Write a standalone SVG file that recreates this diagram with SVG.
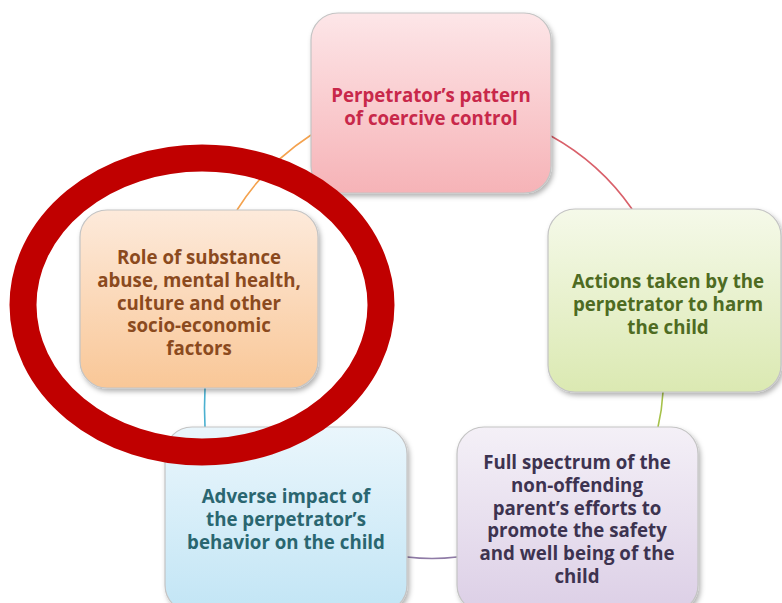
<svg xmlns="http://www.w3.org/2000/svg" width="782" height="603" viewBox="0 0 782 603">
<defs>
<linearGradient id="gPink" x1="0" y1="0" x2="0" y2="1"><stop offset="0" stop-color="#fde6e8"/><stop offset="1" stop-color="#f6b3b7"/></linearGradient>
<linearGradient id="gGreen" x1="0" y1="0" x2="0" y2="1"><stop offset="0" stop-color="#f5f9e9"/><stop offset="1" stop-color="#dbe9b2"/></linearGradient>
<linearGradient id="gPurple" x1="0" y1="0" x2="0" y2="1"><stop offset="0" stop-color="#f4f0f7"/><stop offset="1" stop-color="#dccfe6"/></linearGradient>
<linearGradient id="gBlue" x1="0" y1="0" x2="0" y2="1"><stop offset="0" stop-color="#eaf6fc"/><stop offset="1" stop-color="#c2e5f5"/></linearGradient>
<linearGradient id="gOrange" x1="0" y1="0" x2="0" y2="1"><stop offset="0" stop-color="#fdeadb"/><stop offset="1" stop-color="#f9c797"/></linearGradient>
<filter id="sh" x="-10%" y="-10%" width="125%" height="125%"><feDropShadow dx="2" dy="3" stdDeviation="2.5" flood-color="#000" flood-opacity="0.3"/></filter>
</defs>
<style>
.box{stroke:#c4c4c4;stroke-width:1.2;filter:url(#sh)}
.t{font-family:"Open Sans",Lato,"Liberation Sans",sans-serif;font-weight:bold;font-size:18.7px;text-anchor:middle}
.c{fill:none;stroke-width:1.6}
</style>
<g id="connectors">
<path class="c" stroke="#f4a24e" d="M237,210 Q265,165 311,135"/>
<path class="c" stroke="#d9606a" d="M551,136 Q600,163 632,209"/>
<path class="c" stroke="#a6c24a" d="M663,392 Q662,410 658,427"/>
<path class="c" stroke="#8f7ba6" d="M457,557 Q432,560 407,557"/>
<path class="c" stroke="#4ab0d0" d="M205,388 Q204,408 205,427"/>
</g>
<g id="node-pink">
<rect class="box" x="311" y="13" width="240" height="180" rx="27" fill="url(#gPink)"/>
<text class="t" fill="#c8284a"><tspan x="431" y="102">Perpetrator’s pattern</tspan><tspan x="431" y="124.8">of coercive control</tspan></text>
</g>
<g id="node-green">
<rect class="box" x="548" y="209" width="233" height="183" rx="27" fill="url(#gGreen)"/>
<text class="t" fill="#4e6b22"><tspan x="668" y="288">Actions taken by the</tspan><tspan x="668" y="310.8">perpetrator to harm</tspan><tspan x="668" y="333.6">the child</tspan></text>
</g>
<g id="node-purple">
<rect class="box" x="457" y="427" width="241" height="185" rx="27" fill="url(#gPurple)"/>
<text class="t" fill="#3d3350"><tspan x="577" y="469">Full spectrum of the</tspan><tspan x="577" y="491.8">non-offending</tspan><tspan x="577" y="514.6">parent’s efforts to</tspan><tspan x="577" y="537.4">promote the safety</tspan><tspan x="577" y="560.2">and well being of the</tspan><tspan x="577" y="583">child</tspan></text>
</g>
<g id="node-blue">
<rect class="box" x="165" y="427" width="242" height="185" rx="27" fill="url(#gBlue)"/>
<text class="t" fill="#2a6670"><tspan x="286" y="503">Adverse impact of</tspan><tspan x="286" y="525.8">the perpetrator’s</tspan><tspan x="286" y="548.6">behavior on the child</tspan></text>
</g>
<g id="node-orange">
<rect class="box" x="80" y="210" width="238" height="178" rx="27" fill="url(#gOrange)"/>
<text class="t" fill="#8b4a1e"><tspan x="199" y="264">Role of substance</tspan><tspan x="199" y="286.8">abuse, mental health,</tspan><tspan x="199" y="309.6">culture and other</tspan><tspan x="199" y="332.4">socio-economic</tspan><tspan x="199" y="355.2">factors</tspan></text>
</g>
<ellipse id="highlight" cx="202" cy="305" rx="179" ry="147" fill="none" stroke="#c00000" stroke-width="27"/>
</svg>
